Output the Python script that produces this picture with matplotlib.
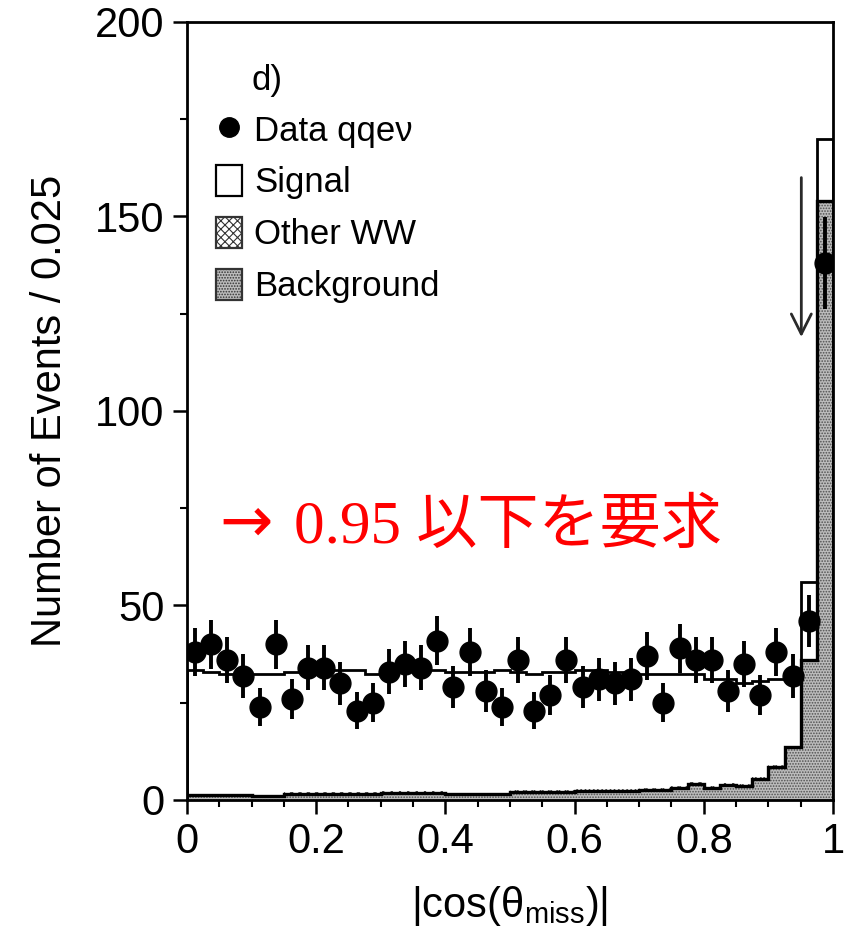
import numpy as np
import matplotlib.pyplot as plt
from matplotlib.lines import Line2D
from matplotlib.patches import Patch

plt.rcParams['font.family'] = ['Liberation Sans', 'DejaVu Sans']
plt.rcParams['mathtext.fontset'] = 'custom'
plt.rcParams['mathtext.rm'] = 'Liberation Sans'
plt.rcParams['hatch.linewidth'] = 0.8

# 40 bins of 0.025 in |cos(theta_miss)|
edges = np.linspace(0.0, 1.0, 41)
centers = 0.5 * (edges[:-1] + edges[1:])

data = [38, 40, 36, 32, 24, 40, 26, 34, 34, 30,
        23, 25, 33, 35, 34, 41, 29, 38, 28, 24,
        36, 23, 27, 36, 29, 31, 30, 31, 37, 25,
        39, 36, 36, 28, 35, 27, 38, 32, 46, 138]

# total expectation (signal + other WW + background)
total = [33.5, 33.0, 32.5, 32.5, 32.5, 32.5, 33.0, 33.5, 33.5, 33.5,
         33.5, 32.5, 33.0, 33.5, 33.5, 33.5, 33.0, 33.0, 33.0, 33.5,
         33.0, 32.5, 33.0, 33.0, 33.5, 33.5, 33.0, 32.5, 32.5, 32.5,
         32.5, 32.5, 31.0, 31.0, 30.0, 30.5, 31.0, 32.5, 56.0, 170.0]

background = [1.2, 1.2, 1.2, 1.2, 1.0, 1.0, 1.5, 1.5, 1.5, 1.5,
              1.5, 1.5, 1.8, 1.8, 1.8, 1.8, 1.5, 1.5, 1.5, 1.5,
              2.0, 2.0, 2.0, 2.0, 2.2, 2.2, 2.2, 2.2, 2.6, 2.6,
              3.2, 4.2, 3.0, 3.8, 3.6, 5.3, 8.4, 13.5, 36.0, 154.0]

other_ww = [0.3, 0.3, 0.3, 0.3, 0.3, 0.3, 0.5, 0.5, 0.5, 0.5,
            0.5, 0.5, 0.5, 0.5, 0.5, 0.5, 0.3, 0.3, 0.3, 0.3,
            0.5, 0.5, 0.5, 0.5, 0.5, 0.5, 0.5, 0.5, 0.5, 0.5,
            0.5, 0.5, 0.5, 0.5, 0.5, 0.5, 0.5, 0.5, 0.0, 0.0]

cut = 0.95

data = np.array(data, dtype=float)
total = np.array(total)
background = np.array(background)
other_ww = np.array(other_ww)

fig = plt.figure(figsize=(8.46, 9.36), dpi=100)
ax = fig.add_axes([0.221, 0.1453, 0.7636, 0.8312])

# stacked expectation
ax.stairs(background, edges, baseline=0, fill=True, facecolor='#bcbcbc',
          edgecolor='#505050', hatch='......', linewidth=0)
ax.stairs(background + other_ww, edges, baseline=background, fill=True,
          facecolor='white', edgecolor='#444444', hatch='xxxx', linewidth=0)
ax.stairs(background, edges, baseline=None, color='black', linewidth=2.4)
ax.stairs(total, edges, baseline=0, color='black', linewidth=2.0)

# data with sqrt(N) errors
ax.errorbar(centers, data, yerr=np.sqrt(data), fmt='o', color='black',
            ms=15, elinewidth=2.8, capsize=0, zorder=5)

# cut position
ax.annotate('', xy=(cut + 0.001, 119), xytext=(cut + 0.001, 160),
            arrowprops=dict(arrowstyle='->', lw=2.0, color='#2a2a2a',
                            mutation_scale=36, shrinkA=0, shrinkB=0))

ax.text(0.1, 185, 'd)', fontsize=25, va='center', ha='left')

handles = [
    Line2D([], [], marker='o', color='black', ls='none', ms=14),
    Patch(facecolor='white', edgecolor='black', linewidth=1.6),
    Patch(facecolor='white', edgecolor='#333333', hatch='xxxx', linewidth=1.6),
    Patch(facecolor='#bcbcbc', edgecolor='#333333', hatch='......', linewidth=1.6),
]
labels = ['Data qqe\u03bd', 'Signal', 'Other WW', 'Background']
ax.legend(handles, labels, loc='upper left', bbox_to_anchor=(0.018, 0.905),
          frameon=False, fontsize=25, handlelength=0.75, handleheight=1.0,
          handletextpad=0.35, labelspacing=0.5, borderpad=0)

ax.text(0.05, 71, '\u2192', color='#ff0000', fontsize=46,
        va='center', ha='left', family='DejaVu Sans')
ax.text(0.165, 70, '0.95 以下を要求', color='#ff0000', fontsize=44,
        va='center', ha='left', family=['Liberation Serif', 'Noto Sans CJK JP'])

ax.set_xlim(0, 1)
ax.set_ylim(0, 200)
ax.set_xticks([0, 0.2, 0.4, 0.6, 0.8, 1.0])
ax.set_xticklabels(['0', '0.2', '0.4', '0.6', '0.8', '1'])
ax.set_xticks(np.arange(0, 1.0001, 0.05), minor=True)
ax.set_yticks([0, 50, 100, 150, 200])
ax.set_yticks(np.arange(0, 201, 25), minor=True)
ax.tick_params(which='major', direction='out', length=10, width=1.8,
               labelsize=30, pad=6)
ax.tick_params(which='minor', direction='out', length=5, width=1.5)
ax.tick_params(top=False, right=False)
for s in ax.spines.values():
    s.set_linewidth(2.0)

ax.set_xlabel(r'$\mathregular{|cos(θ_{miss})|}$', fontsize=30, labelpad=16)
ax.set_ylabel('Number of Events / 0.025', fontsize=30, labelpad=18)

fig.savefig('out.png', dpi=100)
